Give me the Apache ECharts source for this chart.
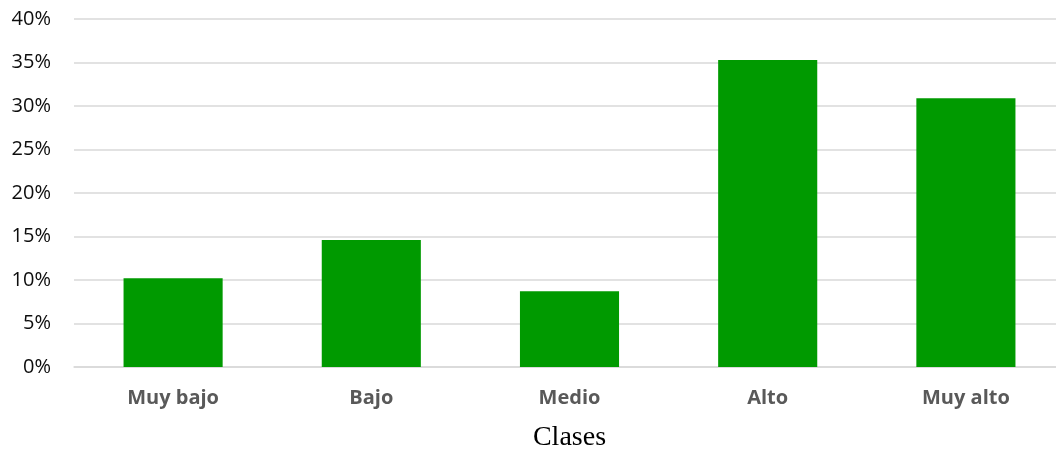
<!DOCTYPE html>
<html>
<head>
<meta charset="utf-8">
<script src="https://cdn.jsdelivr.net/npm/echarts@6/dist/echarts.min.js"></script>
<style>
  html, body { margin: 0; padding: 0; background: #ffffff; }
  #chart { width: 1056px; height: 450px; }
</style>
</head>
<body>
<div id="chart"></div>
<script>
// Share of cases per class (percent)
const categories = ['Muy bajo', 'Bajo', 'Medio', 'Alto', 'Muy alto'];
const shares = [10.2, 14.6, 8.7, 35.3, 30.9];
const axisTitle = 'Clases';

const chart = echarts.init(document.getElementById('chart'), null, { renderer: 'canvas' });

chart.setOption({
  animation: false,
  backgroundColor: '#ffffff',
  grid: { left: 74, right: -9, top: 19, bottom: 83, containLabel: false, outerBoundsMode: 'none' },
  xAxis: {
    type: 'category',
    data: categories,
    name: axisTitle,
    nameLocation: 'middle',
    nameGap: 57,
    nameTextStyle: { fontFamily: 'Liberation Serif', fontSize: 28, color: '#000000' },
    axisLine: { show: true, lineStyle: { color: '#d9d9d9', width: 1.5 } },
    axisTick: { show: false },
    axisLabel: {
      fontFamily: 'Open Sans', fontWeight: 'bold', fontSize: 20, color: '#595959', margin: 21
    }
  },
  yAxis: {
    type: 'value',
    min: 0,
    max: 40,
    interval: 5,
    axisLine: { show: false },
    axisTick: { show: false },
    splitLine: { lineStyle: { color: '#d9d9d9', width: 1.5 } },
    axisLabel: {
      fontFamily: 'Open Sans', fontSize: 20, color: '#0d0d0d', margin: 23,
      formatter: v => v + '%'
    }
  },
  series: [{
    type: 'bar',
    data: shares,
    barCategoryGap: '50%',
    itemStyle: { color: '#009a00' }
  }]
});
</script>
</body>
</html>
